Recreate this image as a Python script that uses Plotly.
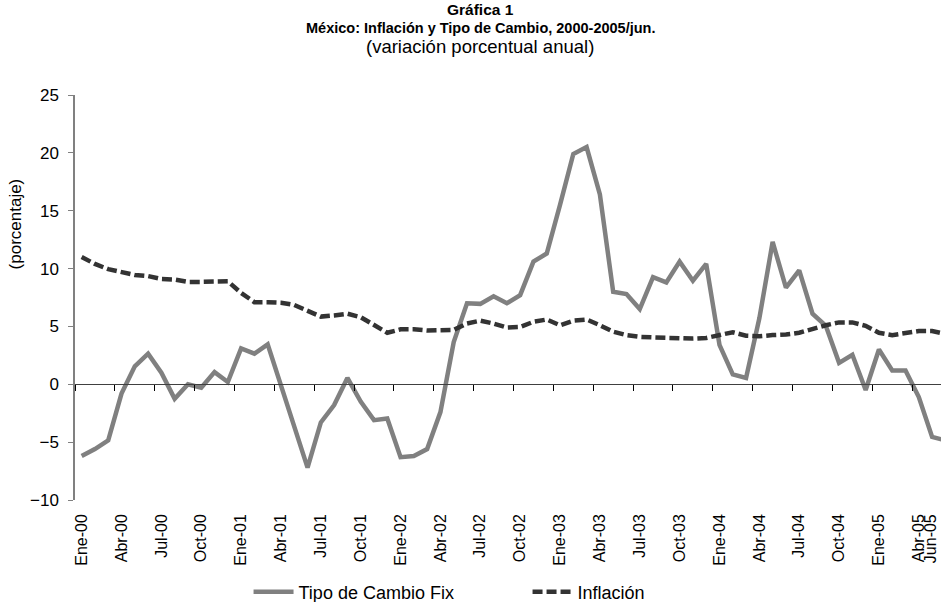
import plotly.graph_objects as go

meses = ["Ene", "Feb", "Mar", "Abr", "May", "Jun", "Jul", "Ago", "Sep", "Oct", "Nov", "Dic"]
anios = ["00", "01", "02", "03", "04", "05"]
categorias = [f"{m}-{a}" for a in anios for m in meses][:66]  # Ene-00 .. Jun-05

tipo_cambio = [
    -6.2, -5.6, -4.85, -0.8, 1.55, 2.65, 1.0, -1.25, 0.0, -0.3, 1.05, 0.2,
    3.1, 2.65, 3.45, -0.2, -3.6, -7.2, -3.3, -1.8, 0.55, -1.5, -3.1, -2.95,
    -6.3, -6.2, -5.6, -2.4, 3.65, 7.0, 6.95, 7.6, 7.0, 7.7, 10.6, 11.3,
    15.5, 19.9, 20.5, 16.4, 8.0, 7.8, 6.5, 9.25, 8.8, 10.6, 8.95, 10.4,
    3.4, 0.85, 0.55, 5.7, 12.3, 8.35, 9.85, 6.1, 5.05, 1.85, 2.55, -0.5,
    3.0, 1.2, 1.2, -1.1, -4.55, -4.85,
]
inflacion = [
    11.0, 10.4, 9.95, 9.65, 9.45, 9.35, 9.1, 9.05, 8.85, 8.85, 8.9, 8.9,
    7.9, 7.1, 7.1, 7.05, 6.85, 6.3, 5.85, 5.95, 6.1, 5.8, 5.1, 4.45,
    4.75, 4.75, 4.65, 4.65, 4.7, 5.25, 5.5, 5.25, 4.9, 4.95, 5.4, 5.6,
    5.1, 5.5, 5.6, 5.1, 4.55, 4.25, 4.1, 4.05, 4.0, 3.95, 3.95, 4.0,
    4.25, 4.5, 4.2, 4.15, 4.25, 4.3, 4.45, 4.8, 5.1, 5.35, 5.35, 5.05,
    4.45, 4.25, 4.4, 4.6, 4.6, 4.35,
]
y_ticks = [-10, -5, 0, 5, 10, 15, 20, 25]

FONT = "Arial, Liberation Sans, sans-serif"
idx = list(range(len(categorias)))
label_idx = [i for i, c in enumerate(categorias) if c[:3] in ("Ene", "Abr", "Jul", "Oct")]
label_txt = [categorias[i] for i in label_idx]
bound_idx = [i - 0.5 for i in label_idx]

y_min, y_max = y_ticks[0], y_ticks[-1]
x_range = [-0.5, 64.67]

fig = go.Figure()
fig.add_trace(go.Scatter(
    x=idx, y=tipo_cambio, mode="lines", name="Tipo de Cambio Fix",
    line=dict(color="#808080", width=4.5),
))
fig.add_trace(go.Scatter(
    x=idx, y=inflacion, mode="lines", name="Inflación",
    line=dict(color="#333333", width=4.5, dash="10px,4px"),
))
# empty trace that activates the axis drawn at y = 0
fig.add_trace(go.Scatter(x=[], y=[], xaxis="x2", showlegend=False, hoverinfo="skip"))

fig.update_layout(
    width=941, height=602,
    margin=dict(l=75, r=0, t=95, b=102, autoexpand=False),
    paper_bgcolor="white", plot_bgcolor="white",
    font=dict(family=FONT, size=16, color="black"),
    showlegend=True,
    legend=dict(orientation="h", x=0.2004, xanchor="left", y=-0.227, yanchor="middle",
                font=dict(size=18), bgcolor="rgba(0,0,0,0)", itemwidth=40,
                entrywidth=224, entrywidthmode="pixels"),
    xaxis=dict(
        range=x_range, tickmode="array", tickvals=label_idx, ticktext=label_txt,
        tickangle=-90, ticks="", showline=False, showgrid=False, zeroline=False,
        ticklabelstandoff=10, tickfont=dict(size=16), automargin=False,
    ),
    xaxis2=dict(
        range=x_range, overlaying="x", anchor="free",
        position=(0 - y_min) / (y_max - y_min), side="bottom",
        tickmode="array", tickvals=bound_idx, showticklabels=False,
        ticks="outside", ticklen=6, tickwidth=1, tickcolor="#000000",
        showline=True, linecolor="#404040", linewidth=1, showgrid=False, zeroline=False,
        automargin=False,
    ),
    yaxis=dict(
        range=[y_min, y_max], tickmode="array", tickvals=y_ticks,
        ticks="outside", ticklen=5, tickcolor="#808080", tickwidth=1,
        showline=True, linecolor="#808080", linewidth=1.5,
        showgrid=False, zeroline=False, ticklabelstandoff=6,
        tickfont=dict(size=17), automargin=False,
    ),
    annotations=[
        dict(text="<b>Gráfica 1</b>", xref="paper", yref="paper", x=0.4677, y=1.2099,
             xanchor="center", yanchor="middle", showarrow=False, font=dict(size=15.5)),
        dict(text="<b>México: Inflación y Tipo de Cambio, 2000-2005/jun.</b>", xref="paper", yref="paper",
             x=0.4677, y=1.165, xanchor="center", yanchor="middle", showarrow=False, font=dict(size=14.5)),
        dict(text="(variación porcentual anual)", xref="paper", yref="paper", x=0.4677, y=1.119,
             xanchor="center", yanchor="middle", showarrow=False, font=dict(size=18.5)),
        dict(text="(porcentaje)", xref="paper", yref="paper", x=-0.069, y=0.681, textangle=-90,
             xanchor="center", yanchor="middle", showarrow=False, font=dict(size=17)),
        dict(text=categorias[-1], xref="paper", yref="paper", x=1.0, y=-0.03, textangle=-90,
             xanchor="right", yanchor="top", showarrow=False, font=dict(size=16)),
    ],
)

fig.write_html(
    "out.html",
    config={"displayModeBar": False},
    post_script="document.body.style.margin='0';document.body.style.overflow='hidden';",
)
